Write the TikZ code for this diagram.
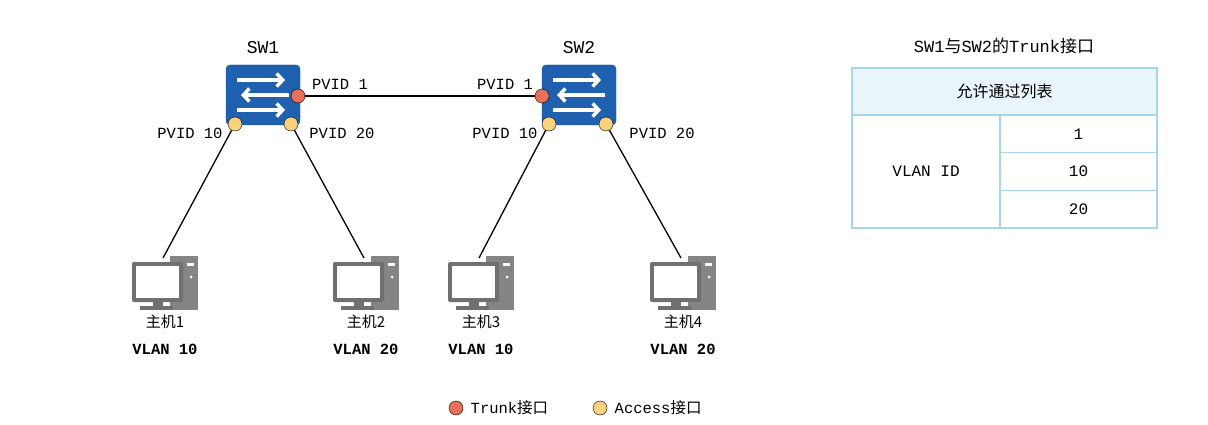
\documentclass[tikz,border=0pt]{standalone}
\usepackage{fontspec}
\setmainfont{Liberation Mono}
\newfontfamily\cjk{Noto Sans CJK SC}
\usetikzlibrary{positioning,arrows.meta}
\definecolor{swblue}{HTML}{1F60AF}
\definecolor{trunkred}{HTML}{E8705A}
\definecolor{accyellow}{HTML}{F8D27C}
\definecolor{pcgray}{HTML}{707070}
\definecolor{tabline}{HTML}{A6D6EC}
\definecolor{tabhead}{HTML}{EAF5FB}
\tikzset{
  pc/.pic={
    \fill[pcgray!85] (5,-29) rectangle (33,25);
    \fill[white] (22,-22) rectangle (29,-19);
    \fill[white] (26,-8) circle (1.5);
    \fill[pcgray,rounded corners=2] (-33,-23) rectangle (18,17);
    \fill[white] (-29,-19) rectangle (14,13);
    \fill[pcgray] (-12,17) rectangle (-2,21);
    \fill[pcgray] (-25,21) rectangle (8,25);
  }
}
\begin{document}
\begin{tikzpicture}[x=1pt,y=-1pt,
  lbl/.style={font=\fontsize{15.5}{17}\selectfont},
  vlan/.style={font=\fontsize{15.5}{17}\selectfont\bfseries},
  host/.style={font=\fontsize{15}{17}\selectfont\cjk},
  switch/.style={draw=swblue!80!black,fill=swblue,rounded corners=4,minimum width=74,minimum height=60},
  trunk/.style={circle,draw=black,fill=trunkred,inner sep=0,minimum size=14},
  access/.style={circle,draw=black,fill=accyellow,inner sep=0,minimum size=14},
  cell/.style={draw=tabline,line width=1.5,font=\fontsize{16}{18}\selectfont}]
\useasboundingbox[fill=white] (0,0) rectangle (1208,425);

% switches
\node[switch] (sw1) at (263,95) {};
\node[switch] (sw2) at (579,95) {};
\node[font=\fontsize{18}{20}\selectfont] at (263,48) {SW1};
\node[font=\fontsize{18}{20}\selectfont] at (579,48) {SW2};
\foreach \s in {sw1,sw2}{
  \draw[white,line width=3.5,-{Straight Barb[length=6,width=13]}] ([shift={(-26,-15)}]\s.center) -- ++(48,0);
  \draw[white,line width=3.5,-{Straight Barb[length=6,width=13]}] ([shift={(26,0)}]\s.center) -- ++(-48,0);
  \draw[white,line width=3.5,-{Straight Barb[length=6,width=13]}] ([shift={(-26,15)}]\s.center) -- ++(48,0);
}

% hosts
\foreach \n/\x/\k/\v in {h1/165/1/10,h2/366/2/20,h3/481/3/10,h4/683/4/20}{
  \pic at (\x,285) {pc};
  \coordinate (\n) at (\x-2,258);
  \node[host] at (\x,322) {主机\k};
  \node[vlan] at (\x,349) {VLAN \v};
}

% ports
\node[trunk] (t1) at (298,96) {};
\node[trunk] (t2) at (542,96) {};
\node[access] (a11) at (235,124) {};
\node[access] (a12) at (291,124) {};
\node[access] (a21) at (549,124) {};
\node[access] (a22) at (606,124) {};

\draw[line width=1.3] (t1) -- (t2);
\draw[line width=1.3] (a11) -- (h1);
\draw[line width=1.3] (a12) -- (h2);
\draw[line width=1.3] (a21) -- (h3);
\draw[line width=1.3] (a22) -- (h4);

\node[lbl] at (340,84) {PVID 1};
\node[lbl] at (505,84) {PVID 1};
\node[lbl] at (190,133) {PVID 10};
\node[lbl] at (342,133) {PVID 20};
\node[lbl] at (505,133) {PVID 10};
\node[lbl] at (662,133) {PVID 20};

% legend
\node[trunk] (lt) at (456,408) {};
\node[lbl,right=4pt of lt] {Trunk{\cjk 接口}};
\node[access] (la) at (600,408) {};
\node[lbl,right=4pt of la] {Access{\cjk 接口}};

% table
\node[font=\fontsize{17}{19}\selectfont] at (1004,46) {SW1{\cjk 与}SW2{\cjk 的}Trunk{\cjk 接口}};
\node[cell,fill=tabhead,minimum width=305,minimum height=47] (head) at (1004.5,91.5) {\cjk 允许通过列表};
\node[cell,minimum width=148,minimum height=113] (vid) at (926,171.5) {VLAN ID};
\node[cell,minimum width=157,minimum height=37.7] (r1) at (1078.5,133.8) {1};
\node[cell,minimum width=157,minimum height=37.7] (r2) at (1078.5,171.5) {10};
\node[cell,minimum width=157,minimum height=37.7] (r3) at (1078.5,209.2) {20};
\end{tikzpicture}
\end{document}
